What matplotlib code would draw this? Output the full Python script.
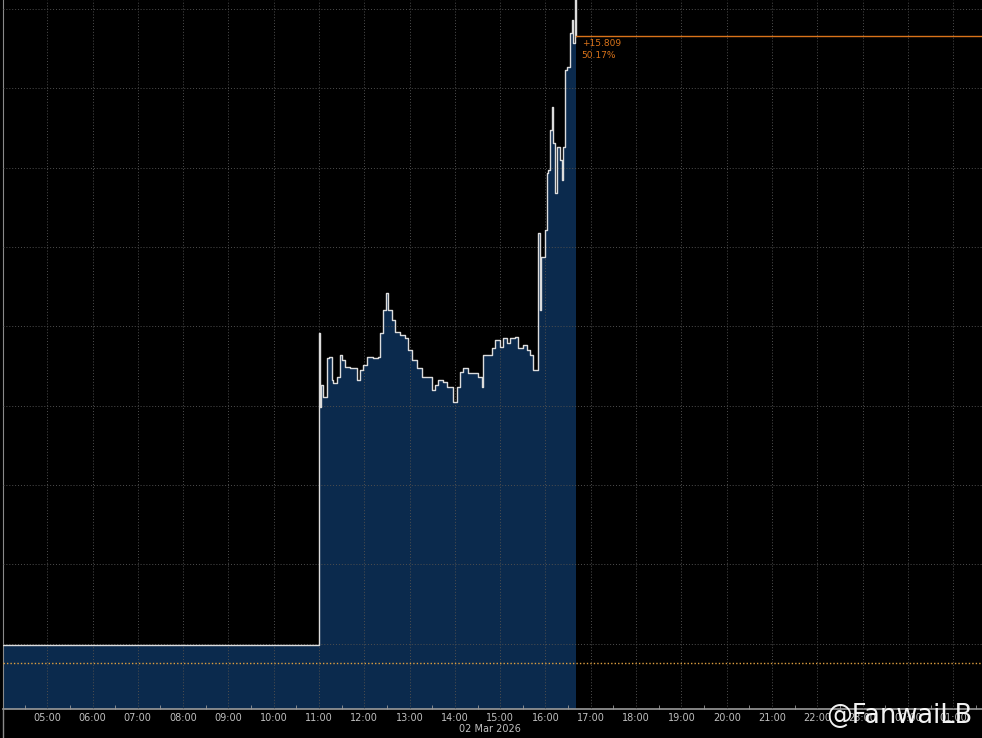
#!/usr/bin/env python3
"""
Intraday price chart, 02 Mar 2026 (terminal-style dark chart)
"""

import matplotlib
matplotlib.use("Agg")
import matplotlib.pyplot as plt
from matplotlib.ticker import MultipleLocator, FixedLocator

# --- data ------------------------------------------------------------------
prev_close = 31.511
last_change = "+15.809"
last_pct = "50.17%"

times = ["04:00", "11:00", "11:01", "11:02", "11:05", "11:10", "11:13", "11:17",
         "11:19", "11:24", "11:28", "11:30", "11:34", "11:41", "11:48", "11:50",
         "11:54", "11:58", "12:04", "12:12", "12:18", "12:21", "12:25", "12:29",
         "12:31", "12:37", "12:41", "12:47", "12:54", "12:58", "13:03", "13:10",
         "13:16", "13:23", "13:30", "13:34", "13:38", "13:44", "13:50", "13:54",
         "13:57", "14:03", "14:07", "14:11", "14:17", "14:24", "14:31", "14:36",
         "14:37", "14:43", "14:49", "14:53", "15:00", "15:04", "15:09", "15:13",
         "15:20", "15:24", "15:30", "15:36", "15:40", "15:43", "15:49", "15:50",
         "15:53", "15:54", "15:59", "16:02", "16:03", "16:06", "16:09", "16:10",
         "16:13", "16:15", "16:19", "16:22", "16:23", "16:26", "16:28", "16:32",
         "16:35", "16:36", "16:39", "16:40"]
prices = [31.97, 39.83, 37.97, 38.52, 38.22, 39.20, 39.23, 38.65,
          38.57, 38.72, 39.28, 39.15, 38.97, 38.95, 38.95, 38.65,
          38.90, 39.02, 39.23, 39.20, 39.23, 39.83, 40.41, 40.84,
          40.41, 40.16, 39.86, 39.78, 39.71, 39.40, 39.15, 38.95,
          38.72, 38.72, 38.39, 38.52, 38.65, 38.60, 38.47, 38.47,
          38.09, 38.47, 38.85, 38.95, 38.82, 38.82, 38.72, 38.47,
          39.28, 39.28, 39.45, 39.66, 39.48, 39.71, 39.58, 39.71,
          39.73, 39.45, 39.53, 39.40, 39.28, 38.90, 38.90, 42.35,
          40.41, 41.75, 42.43, 43.87, 43.94, 44.95, 45.53, 44.62,
          43.36, 44.52, 44.19, 43.69, 44.52, 46.46, 46.54, 47.40,
          47.72, 47.14, 48.40, 47.32]

hour_labels = ["05:00", "06:00", "07:00", "08:00", "09:00", "10:00", "11:00",
               "12:00", "13:00", "14:00", "15:00", "16:00", "17:00", "18:00",
               "19:00", "20:00", "21:00", "22:00", "23:00", "00:00", "01:00"]


def to_hours(s):
    h, m = s.split(":")
    return int(h) + int(m) / 60.0


x = [to_hours(t) for t in times]
x[0] = 4.0

# --- figure -----------------------------------------------------------------
fig = plt.figure(figsize=(9.82, 7.38), dpi=100, facecolor="black")
ax = fig.add_axes([3 / 982, 29 / 738, 979 / 982, 709 / 738])
ax.set_facecolor("black")

x_min, x_max = 4.024, 25.636
y_min, y_max = 30.35, 48.23
ax.set_xlim(x_min, x_max)
ax.set_ylim(y_min, y_max)

# area + step line
ax.fill_between(x, prices, y_min, step="post", color="#0b2a4d", lw=0, zorder=2)
ax.plot(x, prices, drawstyle="steps-post", color="#dcdcdc", lw=1.0, zorder=3)

# previous close (dotted) and last price (solid)
ax.axhline(prev_close, color="#e0a040", lw=1.0, ls=(0, (1, 1.5)), zorder=4)
ax.plot([x[-1], x_max], [prices[-1], prices[-1]], color="#d9731a", lw=1.0, zorder=4)
ax.text(x[-1] + 0.13, prices[-1] - 0.08, last_change, color="#d9731a",
        fontsize=6.5, va="top", ha="left", zorder=5)
ax.text(x[-1] + 0.13, prices[-1] - 0.38, last_pct, color="#d9731a",
        fontsize=6.5, va="top", ha="left", zorder=5)

# grid
hour_pos = [5 + i for i in range(len(hour_labels))]
ax.xaxis.set_major_locator(FixedLocator(hour_pos))
ax.xaxis.set_minor_locator(FixedLocator([h - 0.5 for h in hour_pos] + [hour_pos[-1] + 0.5]))
ax.yaxis.set_major_locator(MultipleLocator(2))
ax.grid(True, which="major", color="#4f4f4f", lw=0.7, ls=(0, (1, 2)), zorder=1)
ax.set_axisbelow(False)
for gl in ax.get_xgridlines() + ax.get_ygridlines():
    gl.set_zorder(2.5)

ax.set_xticklabels(hour_labels)
ax.tick_params(axis="x", which="both", direction="in", colors="#9a9a9a",
               labelcolor="#c0c0c0", labelsize=7, length=3, pad=3)
ax.tick_params(axis="x", which="major", length=0)
ax.tick_params(axis="y", left=False, labelleft=False)

for side in ["top", "right"]:
    ax.spines[side].set_visible(False)
ax.spines["left"].set_color("#8a8a8a")
ax.spines["bottom"].set_color("#9a9a9a")
ax.spines["bottom"].set_linewidth(1.2)

fig.text(490 / 982, 1 - 729 / 738, "02 Mar 2026", color="#c0c0c0",
         fontsize=7, ha="center", va="center")
fig.lines.append(plt.Line2D([3 / 982, 3 / 982], [0, 29 / 738],
                            transform=fig.transFigure, color="#8a8a8a", lw=1))

# watermark
fig.text(972 / 982, 1 - 716 / 738, "@FanwaiLB", color="white",
         fontsize=18.5, ha="right", va="center", alpha=0.95)

fig.savefig("out.png", dpi=100, facecolor="black")
